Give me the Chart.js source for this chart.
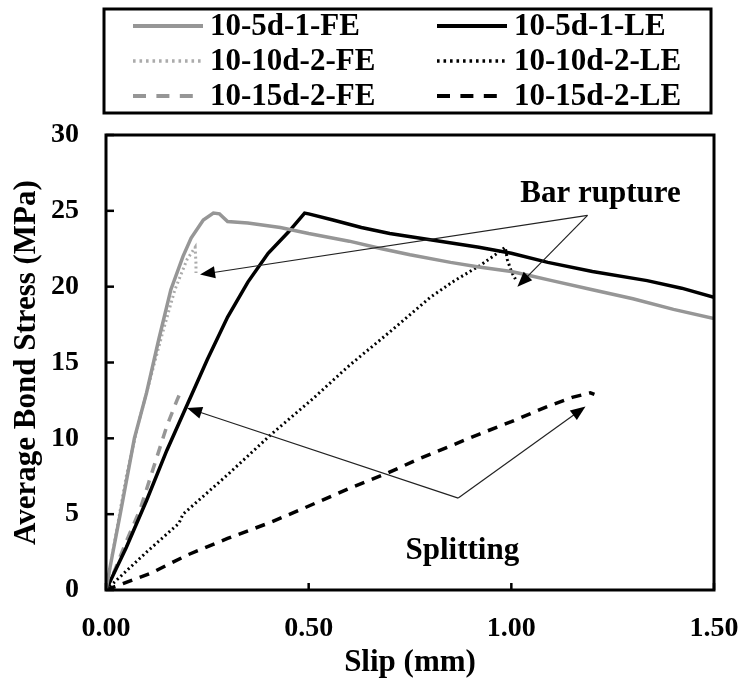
<!DOCTYPE html>
<html>
<head>
<meta charset="utf-8">
<script src="https://cdn.jsdelivr.net/npm/chart.js@4.4.1/dist/chart.umd.min.js"></script>
<style>
  html, body { margin: 0; padding: 0; background: #fff; }
</style>
</head>
<body>
<canvas id="chart" width="747" height="686"></canvas>
<script>
// series: slip (mm) / average bond stress (MPa)
const slip5FE   = [0, 0.01, 0.035, 0.07, 0.10, 0.13, 0.16, 0.19, 0.21, 0.24, 0.265, 0.28, 0.30, 0.35, 0.43, 0.50, 0.60, 0.68, 0.75, 0.85, 0.92, 1.00, 1.05, 1.10, 1.20, 1.30, 1.40, 1.50];
const stress5FE = [0, 1.5, 5.0, 10.0, 13.0, 16.5, 19.8, 22.0, 23.2, 24.4, 24.85, 24.8, 24.3, 24.2, 23.9, 23.5, 23.0, 22.5, 22.1, 21.6, 21.3, 21.0, 20.7, 20.4, 19.8, 19.2, 18.5, 17.9];

const slip5LE   = [0, 0.05, 0.10, 0.15, 0.20, 0.25, 0.30, 0.35, 0.40, 0.45, 0.49, 0.50, 0.56, 0.63, 0.70, 0.80, 0.92, 1.00, 1.09, 1.20, 1.335, 1.42, 1.50];
const stress5LE = [0, 2.8, 5.9, 9.2, 12.2, 15.2, 18.0, 20.3, 22.2, 23.6, 24.85, 24.8, 24.4, 23.9, 23.5, 23.1, 22.6, 22.2, 21.6, 21.0, 20.4, 19.9, 19.3];

const slip10FE   = [0, 0.02, 0.05, 0.08, 0.11, 0.14, 0.17, 0.20, 0.22, 0.222, 0.222];
const stress10FE = [0, 3.0, 7.5, 11.0, 14.0, 17.0, 19.8, 21.8, 22.6, 21.5, 20.9];

const slip10LE   = [0, 0.10, 0.18, 0.19, 0.30, 0.405, 0.51, 0.60, 0.677, 0.726, 0.80, 0.86, 0.923, 0.96, 0.985, 0.99, 1.00, 1.01];
const stress10LE = [0, 2.5, 4.4, 5.0, 7.6, 10.2, 12.6, 14.8, 16.5, 17.6, 19.3, 20.4, 21.4, 22.1, 22.6, 21.8, 21.0, 20.5];

const slip15FE   = [0, 0.02, 0.05, 0.084, 0.12, 0.15, 0.175, 0.183, 0.186];
const stress15FE = [0, 1.2, 3.2, 5.3, 8.3, 10.8, 12.5, 13.0, 12.7];

const slip15LE   = [0, 0.05, 0.11, 0.20, 0.30, 0.40, 0.48, 0.60, 0.694, 0.768, 0.85, 0.923, 1.00, 1.089, 1.15, 1.195, 1.205];
const stress15LE = [0, 0.5, 1.1, 2.3, 3.4, 4.4, 5.3, 6.7, 7.7, 8.6, 9.5, 10.3, 11.1, 12.1, 12.7, 13.0, 12.9];

const seriesNames = ['10-5d-1-FE', '10-5d-1-LE', '10-10d-2-FE', '10-10d-2-LE', '10-15d-2-FE', '10-15d-2-LE'];

const xTicks = [0, 0.5, 1.0, 1.5];
const yTicks = [0, 5, 10, 15, 20, 25, 30];

// annotation anchors in data units
const ruptureLabel = { x: 1.22, y: 26.1, text: 'Bar rupture' };
const ruptureFrom = { x: 1.188, y: 24.7 };
const ruptureTips = [{ x: 0.232, y: 20.8 }, { x: 1.015, y: 20.0 }];
const splitLabel = { x: 0.879, y: 2.6, text: 'Splitting' };
const splitFrom = { x: 0.869, y: 6.06 };
const splitTips = [{ x: 0.2, y: 12.0 }, { x: 1.183, y: 12.1 }];

const FONT = "'Liberation Serif', 'Times New Roman', serif";

function pts(xs, ys) {
    return xs.map((x, i) => ({ x: x, y: ys[i] }));
}

function line(label, xs, ys, color, width, dash) {
    return {
        label: label,
        data: pts(xs, ys),
        borderColor: color,
        backgroundColor: color,
        borderWidth: width,
        borderDash: dash,
        pointRadius: 0,
        tension: 0,
        fill: false
    };
}

const datasets = [
    line(seriesNames[0], slip5FE, stress5FE, '#969696', 3.5, []),
    line(seriesNames[1], slip5LE, stress5LE, '#000000', 3.5, []),
    line(seriesNames[2], slip10FE, stress10FE, '#ababab', 3, [2, 3]),
    line(seriesNames[3], slip10LE, stress10LE, '#000000', 3, [2, 3]),
    line(seriesNames[4], slip15FE, stress15FE, '#969696', 3.5, [10, 8]),
    line(seriesNames[5], slip15LE, stress15LE, '#000000', 3.5, [10, 8])
];

// frame, inward ticks, legend box and the arrow notes
const decorPlugin = {
    id: 'decor',
    afterDraw(chart) {
        const ctx = chart.ctx;
        const a = chart.chartArea;
        const xs = chart.scales.x;
        const ys = chart.scales.y;
        ctx.save();

        ctx.strokeStyle = '#000';
        ctx.lineWidth = 3;
        ctx.setLineDash([]);
        ctx.strokeRect(a.left, a.top, a.right - a.left, a.bottom - a.top);

        ctx.lineWidth = 2.5;
        xTicks.forEach(v => {
            const px = xs.getPixelForValue(v);
            ctx.beginPath();
            ctx.moveTo(px, a.bottom);
            ctx.lineTo(px, a.bottom - 7);
            ctx.stroke();
        });
        yTicks.forEach(v => {
            const py = ys.getPixelForValue(v);
            ctx.beginPath();
            ctx.moveTo(a.left, py);
            ctx.lineTo(a.left + 8, py);
            ctx.stroke();
        });

        // legend
        ctx.lineWidth = 3;
        ctx.strokeRect(104, 9, 607, 104);
        const colX = [133, 437];
        const rowY = [26, 61, 96];
        chart.data.datasets.forEach((ds, i) => {
            const cx = colX[i % 2];
            const cy = rowY[Math.floor(i / 2)];
            ctx.strokeStyle = ds.borderColor;
            ctx.lineWidth = ds.borderWidth + 0.5;
            ctx.setLineDash(ds.borderDash.map(d => d * 1.3));
            ctx.beginPath();
            ctx.moveTo(cx, cy);
            ctx.lineTo(cx + 70, cy);
            ctx.stroke();
            ctx.setLineDash([]);
            ctx.fillStyle = '#000';
            ctx.font = 'bold 31px ' + FONT;
            ctx.textAlign = 'left';
            ctx.textBaseline = 'middle';
            ctx.fillText(ds.label, cx + 77, cy + 1);
        });

        // arrows
        function arrow(from, tip) {
            const x0 = xs.getPixelForValue(from.x), y0 = ys.getPixelForValue(from.y);
            const x1 = xs.getPixelForValue(tip.x), y1 = ys.getPixelForValue(tip.y);
            const ang = Math.atan2(y1 - y0, x1 - x0);
            const len = 15, half = 6;
            ctx.strokeStyle = '#222';
            ctx.lineWidth = 1.2;
            ctx.beginPath();
            ctx.moveTo(x0, y0);
            ctx.lineTo(x1 - Math.cos(ang) * len * 0.8, y1 - Math.sin(ang) * len * 0.8);
            ctx.stroke();
            ctx.fillStyle = '#000';
            ctx.beginPath();
            ctx.moveTo(x1, y1);
            ctx.lineTo(x1 - Math.cos(ang) * len + Math.sin(ang) * half, y1 - Math.sin(ang) * len - Math.cos(ang) * half);
            ctx.lineTo(x1 - Math.cos(ang) * len - Math.sin(ang) * half, y1 - Math.sin(ang) * len + Math.cos(ang) * half);
            ctx.closePath();
            ctx.fill();
        }
        ruptureTips.forEach(t => arrow(ruptureFrom, t));
        splitTips.forEach(t => arrow(splitFrom, t));

        ctx.fillStyle = '#000';
        ctx.font = 'bold 31px ' + FONT;
        ctx.textAlign = 'center';
        ctx.textBaseline = 'middle';
        ctx.fillText(ruptureLabel.text, xs.getPixelForValue(ruptureLabel.x), ys.getPixelForValue(ruptureLabel.y));
        ctx.fillText(splitLabel.text, xs.getPixelForValue(splitLabel.x), ys.getPixelForValue(splitLabel.y));

        ctx.restore();
    }
};

new Chart(document.getElementById('chart'), {
    type: 'line',
    data: { datasets: datasets },
    plugins: [decorPlugin],
    options: {
        responsive: false,
        animation: false,
        devicePixelRatio: 1,
        layout: { padding: { top: 135, right: 33, left: 0, bottom: 0 } },
        plugins: {
            legend: { display: false },
            tooltip: { enabled: false }
        },
        scales: {
            x: {
                type: 'linear',
                min: 0,
                max: 1.5,
                afterBuildTicks: s => { s.ticks = xTicks.map(v => ({ value: v })); },
                afterFit: s => { s.height = 96; s.paddingLeft = 0; s.paddingRight = 0; },
                grid: { display: false, drawTicks: false },
                border: { display: false },
                ticks: {
                    padding: 22,
                    color: '#000',
                    maxRotation: 0,
                    font: { family: FONT, size: 28, weight: 'bold' },
                    callback: v => Number(v).toFixed(2)
                },
                title: {
                    display: true,
                    text: 'Slip (mm)',
                    color: '#000',
                    font: { family: FONT, size: 31, weight: 'bold' },
                    padding: { top: 0, bottom: 4 }
                }
            },
            y: {
                type: 'linear',
                min: 0,
                max: 30,
                afterBuildTicks: s => { s.ticks = yTicks.map(v => ({ value: v })); },
                afterFit: s => { s.width = 106; s.paddingTop = 0; s.paddingBottom = 0; },
                grid: { display: false, drawTicks: false },
                border: { display: false },
                ticks: {
                    padding: 27,
                    color: '#000',
                    font: { family: FONT, size: 28, weight: 'bold' }
                },
                title: {
                    display: true,
                    text: 'Average Bond Stress (MPa)',
                    color: '#000',
                    font: { family: FONT, size: 31, weight: 'bold' },
                    padding: { top: 8, bottom: 0 }
                }
            }
        }
    }
});
</script>
</body>
</html>
